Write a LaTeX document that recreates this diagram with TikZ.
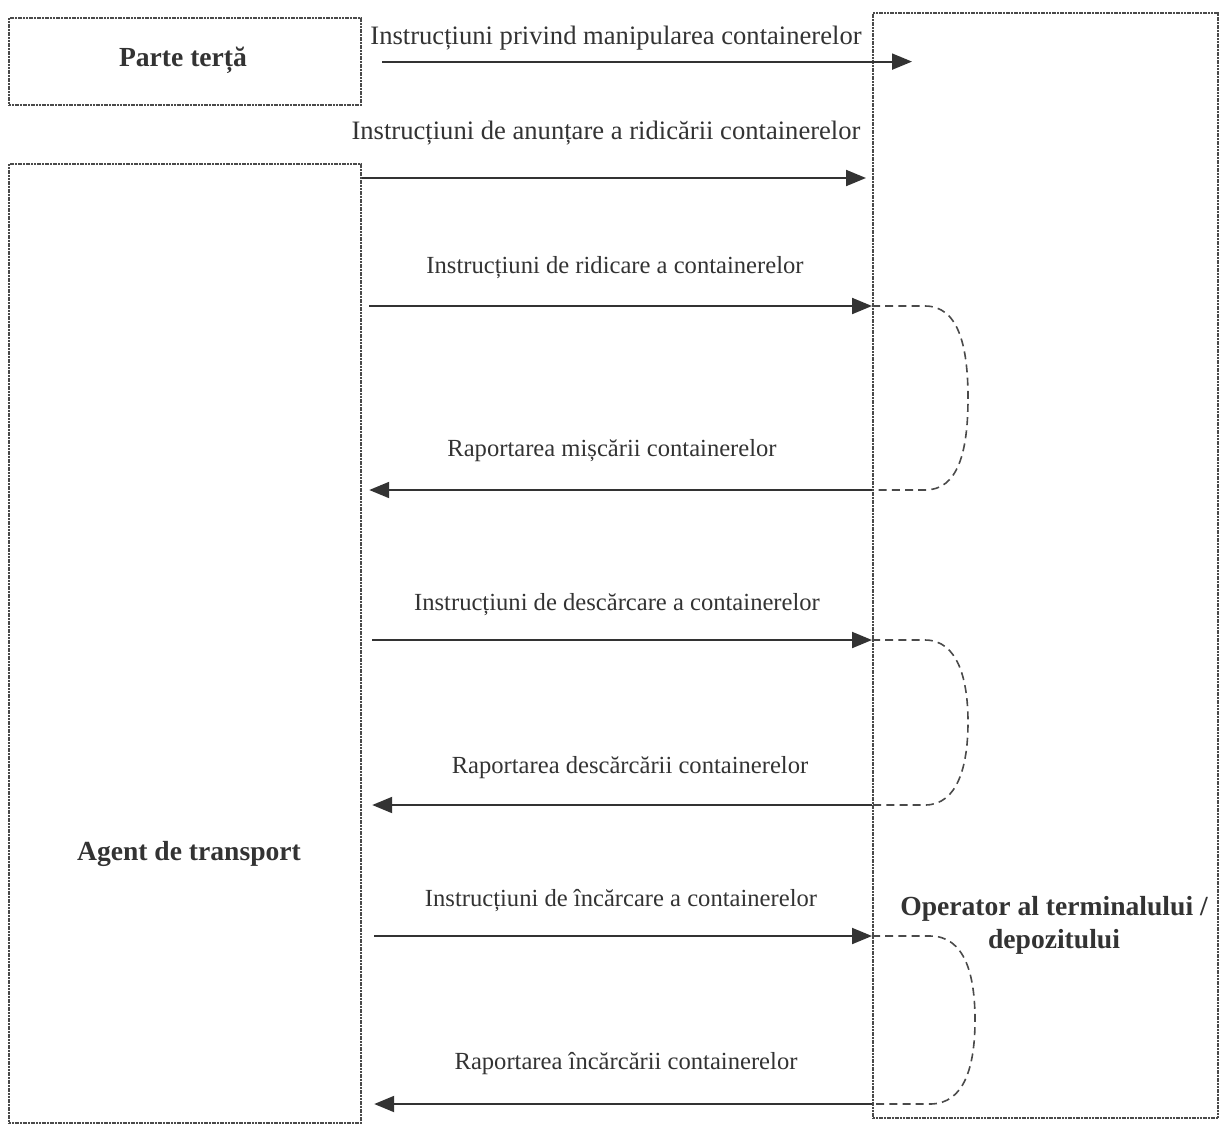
\documentclass[tikz,border=0pt]{standalone}
\usepackage{fontspec}
\setmainfont{Liberation Serif}
\usetikzlibrary{arrows.meta}
\definecolor{ink}{HTML}{333333}
\definecolor{frame}{HTML}{4A4A4A}
\tikzset{
  party/.style={draw=frame, line width=1.1pt, dash pattern=on 1pt off 0.35pt,
    inner sep=0pt, anchor=north west},
  title/.style={font=\bfseries\fontsize{13.8}{16.5}\selectfont, text=ink, align=center},
  msg/.style={font=\fontsize{12.3}{14}\selectfont, text=ink, inner sep=1pt},
  bigmsg/.style={msg, font=\fontsize{13.3}{15}\selectfont},
  flow/.style={draw=ink, line width=1pt, -{Triangle[length=10pt,width=8pt]}},
  loopback/.style={draw=frame, line width=0.8pt, dash pattern=on 4pt off 2.6pt},
}
\begin{document}
\begin{tikzpicture}[x=0.5pt,y=-0.5pt]
\useasboundingbox (0,0) rectangle (1219,1125);

% the three parties
\node[party, minimum width=176pt, minimum height=43.5pt] (third) at (8,17) {};
\node[party, minimum width=176pt, minimum height=479.5pt] (agent) at (8,163) {};
\node[party, minimum width=172.5pt, minimum height=552.5pt] (oper) at (872,12) {};

\node[title] (thirdname) at (183,60) {Parte terță};
\node[title] (agentname) at (189,854) {Agent de transport};
\node[title] (opername) at (1054,925) {Operator al terminalului /\\depozitului};

% message levels
\coordinate (y2) at (0,178);
\coordinate (y3) at (0,306);
\coordinate (y4) at (0,490);
\coordinate (y5) at (0,640);
\coordinate (y6) at (0,805);
\coordinate (y7) at (0,936);
\coordinate (y8) at (0,1104);

% messages
\draw[flow] ([xshift=10pt]third.east) -- ([xshift=20pt]oper.west |- third.east);
\node[bigmsg] (m1) at (616,38) {Instrucțiuni privind manipularea containerelor};

\draw[flow] (agent.east |- y2) -- ([xshift=-3pt]oper.west |- y2);
\node[bigmsg] (m2) at (606,133) {Instrucțiuni de anunțare a ridicării containerelor};

\draw[flow] ([xshift=3.5pt]agent.east |- y3) -- (oper.west |- y3);
\node[msg] (m3) at (615,268) {Instrucțiuni de ridicare a containerelor};

\draw[flow] (oper.west |- y4) -- ([xshift=3.5pt]agent.east |- y4);
\node[msg] (m4) at (612,451) {Raportarea mișcării containerelor};

\draw[flow] ([xshift=5pt]agent.east |- y5) -- (oper.west |- y5);
\node[msg] (m5) at (617,605) {Instrucțiuni de descărcare a containerelor};

\draw[flow] (oper.west |- y6) -- ([xshift=5pt]agent.east |- y6);
\node[msg] (m6) at (630,768) {Raportarea descărcării containerelor};

\draw[flow] ([xshift=6pt]agent.east |- y7) -- (oper.west |- y7);
\node[msg] (m7) at (621,901) {Instrucțiuni de încărcare a containerelor};

\draw[flow] (oper.west |- y8) -- ([xshift=6pt]agent.east |- y8);
\node[msg] (m8) at (626,1064) {Raportarea încărcării containerelor};

% processing loops inside the terminal
\draw[loopback] (oper.west |- y3) -- (925,306)
  .. controls (958,306) and (968,345) .. (968,398)
  .. controls (968,452) and (958,490) .. (925,490) -- (oper.west |- y4);
\draw[loopback] (oper.west |- y5) -- (925,640)
  .. controls (958,640) and (968,680) .. (968,722)
  .. controls (968,765) and (958,805) .. (925,805) -- (oper.west |- y6);
\draw[loopback] (oper.west |- y7) -- (930,936)
  .. controls (965,936) and (975,975) .. (975,1020)
  .. controls (975,1065) and (965,1104) .. (930,1104) -- (oper.west |- y8);
\end{tikzpicture}
\end{document}
